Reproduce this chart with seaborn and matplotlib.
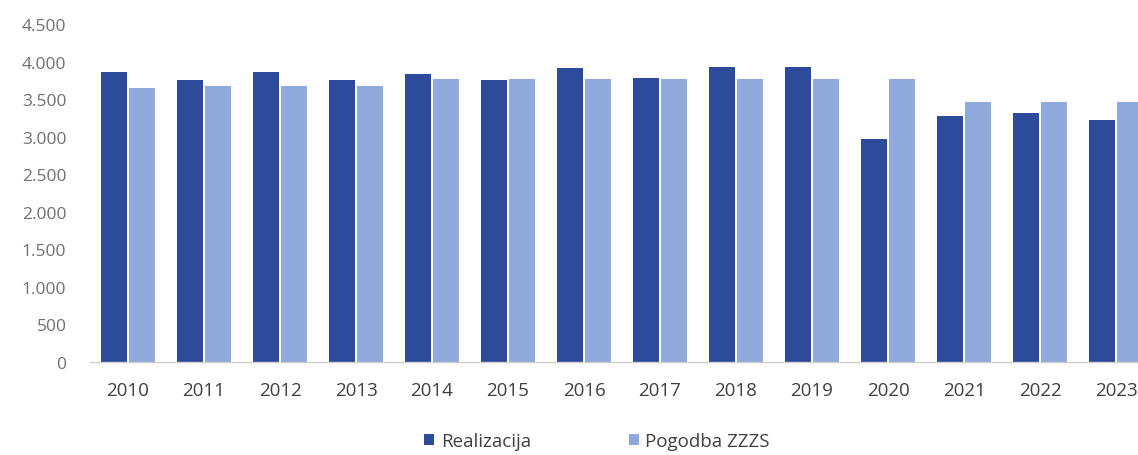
import seaborn as sns
import matplotlib
matplotlib.use("Agg")
import matplotlib.pyplot as plt
import pandas as pd
from matplotlib.ticker import FuncFormatter

years = [str(y) for y in range(2010, 2024)]
realizacija = [3870, 3760, 3870, 3760, 3840, 3760, 3920, 3790, 3935, 3935, 2975, 3280, 3320, 3230]
pogodba_zzzs = [3650, 3680, 3680, 3680, 3770, 3770, 3770, 3770, 3770, 3770, 3770, 3470, 3470, 3470]
series = ["Realizacija", "Pogodba ZZZS"]
colors = ["#2C4C9B", "#8FA9DC"]

df = pd.DataFrame({
    "leto": years * 2,
    "vrednost": realizacija + pogodba_zzzs,
    "serija": [series[0]] * len(years) + [series[1]] * len(years),
})

sns.set_style("white")
plt.rcParams['font.family'] = ['Open Sans', 'DejaVu Sans']

fig = plt.figure(figsize=(11.38, 4.56), dpi=100)
# axes extends past the right edge, the reference is cropped there
ax = fig.add_axes([90 / 1138, 93 / 456, 1064 / 1138, 337.5 / 456])

sns.barplot(data=df, x="leto", y="vrednost", hue="serija", palette=colors,
            saturation=1, linewidth=0, width=0.75, gap=0.1, ax=ax, legend=True)

ax.set_xlim(-0.5, len(years) - 0.5)
ax.set_ylim(0, 4500)
ax.set_yticks(range(0, 4501, 500))
ax.yaxis.set_major_formatter(FuncFormatter(lambda v, p: f"{int(v):,}".replace(",", ".")))
ax.set_xlabel("")
ax.set_ylabel("")
ax.tick_params(axis="y", labelsize=12.5, colors="#707070", length=0, pad=17)
ax.tick_params(axis="x", labelsize=13.5, colors="#404040", length=0, pad=14)

for s in ["top", "right", "left"]:
    ax.spines[s].set_visible(False)
ax.spines["bottom"].set_color("#d0d0d0")
ax.spines["bottom"].set_linewidth(1)

leg = ax.legend(loc="center", bbox_to_anchor=(597 / 1138, 1 - 442 / 456),
                bbox_transform=fig.transFigure, ncol=2, frameon=False,
                fontsize=13.5, handlelength=0.55, handleheight=0.55,
                handletextpad=0.35, columnspacing=5.2)
for t in leg.get_texts():
    t.set_color("#404040")

fig.savefig("out.png", dpi=100)
